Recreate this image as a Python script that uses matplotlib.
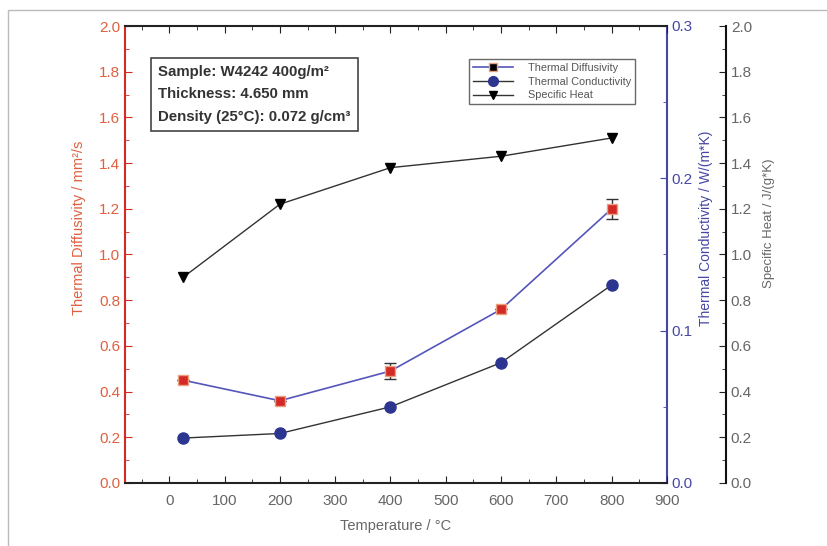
import matplotlib
matplotlib.use('Agg')
import numpy as np
import matplotlib.pyplot as plt
from matplotlib.patches import Rectangle
from matplotlib.lines import Line2D
from matplotlib.ticker import MultipleLocator, FormatStrFormatter

plt.rcParams['font.family'] = ['Liberation Sans', 'DejaVu Sans']

# data
temperature = [25, 200, 400, 600, 800]
diffusivity = [0.45, 0.36, 0.49, 0.76, 1.20]
diffusivity_err = [0.0, 0.0, 0.035, 0.0, 0.045]
conductivity = [0.0295, 0.0325, 0.050, 0.079, 0.130]
specific_heat = [0.90, 1.22, 1.38, 1.43, 1.51]

RED = '#d42a26'
RED_TXT = '#e0603f'
BLUE = '#4646a6'
DARK_BLUE = '#2c3590'
GREY = '#666666'

W, H = 827, 546
fig = plt.figure(figsize=(W / 100, H / 100), dpi=100)
fig.patches.append(Rectangle((8 / W, -0.1), 1.2, 1 - 10 / H + 0.1,
                             transform=fig.transFigure, fill=False,
                             edgecolor='#bbbbbb', lw=1))

left, right, top, bottom = 125, 667, 26, 483
aw, ah = right - left, bottom - top
ax = fig.add_axes([left / W, 1 - bottom / H, aw / W, ah / H])
ax.patch.set_alpha(0)

def ax_x(px):
    return (px - left) / aw

def ax_y(py):
    return (bottom - py) / ah

# left axis: thermal diffusivity
ax.set_xlim(-80, 900)
ax.set_ylim(0, 2.0)
ax.xaxis.set_major_locator(MultipleLocator(100))
ax.xaxis.set_minor_locator(MultipleLocator(50))
ax.yaxis.set_major_locator(MultipleLocator(0.2))
ax.yaxis.set_minor_locator(MultipleLocator(0.1))
ax.tick_params(axis='x', which='both', direction='in', top=True, colors='#222222',
               labelcolor=GREY, labelsize=11, pad=8)
ax.tick_params(axis='x', which='major', length=5)
ax.tick_params(axis='x', which='minor', length=3)
ax.tick_params(axis='y', which='both', direction='in', colors=RED, labelcolor=RED_TXT,
               labelsize=11, right=False)
ax.tick_params(axis='y', which='major', length=5)
ax.tick_params(axis='y', which='minor', length=3)
ax.yaxis.set_major_formatter(FormatStrFormatter('%.1f'))
for s in ['top', 'bottom']:
    ax.spines[s].set_color('#222222')
    ax.spines[s].set_linewidth(1.5)
ax.spines['left'].set_color(RED)
ax.spines['left'].set_linewidth(1.5)
ax.spines['right'].set_visible(False)
ax.set_xlabel('Temperature / °C', color=GREY, fontsize=10.5, labelpad=8)
ax.set_ylabel('Thermal Diffusivity / mm²/s', color=RED_TXT, fontsize=10.5)
ax.yaxis.set_label_coords(ax_x(86), ax_y(228))

# blue axis: thermal conductivity
ax2 = ax.twinx()
ax2.set_ylim(0, 0.3)
ax2.yaxis.set_major_locator(MultipleLocator(0.1))
ax2.yaxis.set_minor_locator(MultipleLocator(0.05))
ax2.yaxis.set_major_formatter(FormatStrFormatter('%.1f'))
ax2.tick_params(axis='y', which='both', direction='in', colors=BLUE, labelcolor=BLUE,
                labelsize=11)
ax2.tick_params(axis='y', which='major', length=5)
ax2.tick_params(axis='y', which='minor', length=3)
for s in ['top', 'bottom', 'left']:
    ax2.spines[s].set_visible(False)
ax2.spines['right'].set_color(BLUE)
ax2.spines['right'].set_linewidth(1.5)
ax2.set_ylabel('Thermal Conductivity / W/(m*K)', color=BLUE, fontsize=10)
ax2.yaxis.set_label_coords(ax_x(699), ax_y(228))

# black axis: specific heat
ax3 = ax.twinx()
ax3.set_ylim(0, 2.0)
ax3.spines['right'].set_position(('axes', ax_x(726)))
ax3.yaxis.set_major_locator(MultipleLocator(0.2))
ax3.yaxis.set_minor_locator(MultipleLocator(0.1))
ax3.yaxis.set_major_formatter(FormatStrFormatter('%.1f'))
ax3.tick_params(axis='y', which='both', direction='in', colors='#222222',
                labelcolor=GREY, labelsize=11)
ax3.tick_params(axis='y', which='major', length=5)
ax3.tick_params(axis='y', which='minor', length=3)
for s in ['top', 'bottom', 'left']:
    ax3.spines[s].set_visible(False)
ax3.spines['right'].set_color('#111111')
ax3.spines['right'].set_linewidth(1.5)
ax3.set_ylabel('Specific Heat / J/(g*K)', color=GREY, fontsize=9.5)
ax3.yaxis.set_label_coords(ax_x(763), ax_y(223))

# series
ax3.plot(temperature, specific_heat, color='#333333', lw=1, marker='v',
         ms=7, mfc='black', mec='black', zorder=3)
ax2.plot(temperature, conductivity, color='#333333', lw=1, marker='o',
         ms=8, mfc=DARK_BLUE, mec=DARK_BLUE, zorder=3)
ax.errorbar(temperature, diffusivity, yerr=diffusivity_err, color='#5555bb', lw=1.2,
            marker='s', ms=7, mfc=RED, mec='#e8a080', ecolor='#333333',
            elinewidth=1, capsize=4, zorder=4)
ax.set_zorder(ax3.get_zorder() + 1)

# info box
ax.text(ax_x(158), ax_y(65),
        'Sample: W4242 400g/m²\nThickness: 4.650 mm\nDensity (25°C): 0.072 g/cm³',
        transform=ax.transAxes, fontsize=10.8, fontweight='bold', color='#333333',
        va='top', ha='left', linespacing=1.75,
        bbox=dict(boxstyle='square,pad=0.5', fc='white', ec='#444444', lw=1.2))

# legend
handles = [
    Line2D([], [], color='#5555bb', marker='s', mfc='black', mec='#e8a080', ms=6, lw=1.2),
    Line2D([], [], color='#333333', marker='o', mfc=DARK_BLUE, mec=DARK_BLUE, ms=7, lw=1),
    Line2D([], [], color='#333333', marker='v', mfc='black', mec='black', ms=6, lw=1),
]
leg = ax.legend(handles, ['Thermal Diffusivity', 'Thermal Conductivity', 'Specific Heat'],
                loc='upper left', bbox_to_anchor=(ax_x(469), ax_y(59)),
                fontsize=7.8, frameon=True, fancybox=False, edgecolor='#444444',
                borderpad=0.35, labelspacing=0.35, handlelength=3.7, handletextpad=1.4,
                borderaxespad=0)
leg.get_frame().set_linewidth(1)
for t in leg.get_texts():
    t.set_color('#555555')

fig.savefig('out.png', dpi=100)
